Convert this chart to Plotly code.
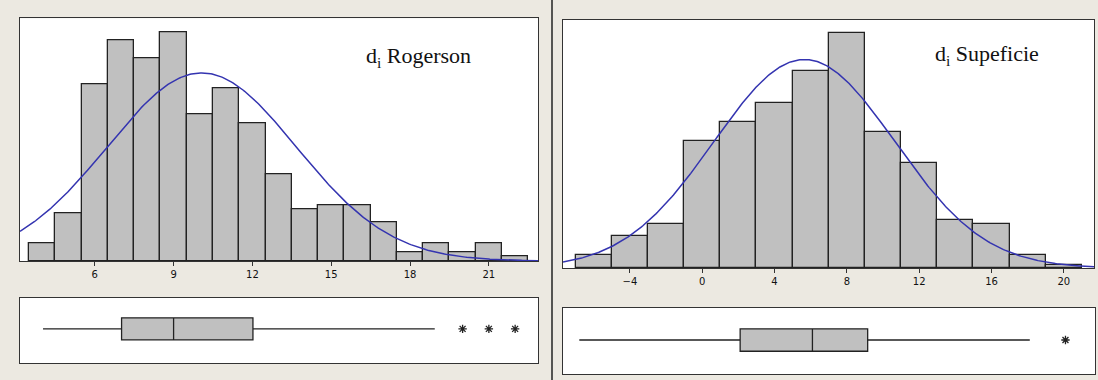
import numpy as np
import plotly.graph_objects as go

# ---- Rogerson distances: histogram (bin width 1) ----
rog_bins = [4, 5, 6, 7, 8, 9, 10, 11, 12, 13, 14, 15, 16, 17, 18, 19, 20, 21, 22]
rog_counts = [4, 11, 41, 51, 47, 53, 34, 40, 32, 20, 12, 13, 13, 9, 2, 4, 2, 4, 1]
rog_width = 1.0
rog_mean = 10.07
rog_sd = 3.6
rog_ticks = [6, 9, 12, 15, 18, 21]
# box summary
rog_box = dict(lo=4.03, q1=7.02, med=9.0, q3=12.02, hi=18.94)
rog_outliers = [20.0, 21.0, 22.0]

# ---- Superficie distances: histogram (bin width 2) ----
sup_bins = [-6, -4, -2, 0, 2, 4, 6, 8, 10, 12, 14, 16, 18, 20]
sup_counts = [4, 10, 14, 40, 46, 52, 62, 74, 43, 33, 15, 14, 4, 1]
sup_width = 2.0
sup_mean = 5.65
sup_sd = 5.0
sup_ticks = [-4, 0, 4, 8, 12, 16, 20]
sup_box = dict(lo=-6.8, q1=2.08, med=6.07, q3=9.12, hi=18.07)
sup_outliers = [20.04]

W, H = 1098, 380
BG = "#ece9e1"
BAR = "#c0c0c0"
EDGE = "#222222"
FRAME = "#333333"
CURVE = "#3434b0"


def xd(a, b):
    return [a / W, b / W]


def yd(top, bottom):
    return [1 - bottom / H, 1 - top / H]


fig = go.Figure()


def normal_curve(xr, n, width, mu, sd):
    xs = np.linspace(xr[0], xr[1], 400)
    ys = n * width / (sd * np.sqrt(2 * np.pi)) * np.exp(-0.5 * ((xs - mu) / sd) ** 2)
    return xs, ys


def add_panel(k_hist, k_box, bins, counts, width, mu, sd, box, outliers, xr):
    xa_h = "x" if k_hist == 1 else f"x{k_hist}"
    ya_h = "y" if k_hist == 1 else f"y{k_hist}"
    xa_b, ya_b = f"x{k_box}", f"y{k_box}"
    fig.add_trace(go.Bar(
        x=bins, y=counts, width=width,
        marker=dict(color=BAR, line=dict(color=EDGE, width=1.3)),
        xaxis=xa_h, yaxis=ya_h, showlegend=False, hoverinfo="skip",
    ))
    xs, ys = normal_curve(xr, sum(counts), width, mu, sd)
    fig.add_trace(go.Scatter(
        x=xs, y=ys, mode="lines", line=dict(color=CURVE, width=1.5),
        xaxis=xa_h, yaxis=ya_h, showlegend=False, hoverinfo="skip",
    ))
    fig.add_trace(go.Box(
        q1=[box["q1"]], median=[box["med"]], q3=[box["q3"]],
        lowerfence=[box["lo"]], upperfence=[box["hi"]],
        y=[0], orientation="h", width=0.68, whiskerwidth=0,
        fillcolor=BAR, line=dict(color=EDGE, width=1.3),
        xaxis=xa_b, yaxis=ya_b, showlegend=False, hoverinfo="skip",
    ))
    fig.add_trace(go.Scatter(
        x=outliers, y=[0] * len(outliers), mode="markers",
        marker=dict(symbol="asterisk-open", size=7, color="#222",
                    line=dict(color="#222", width=1.3)),
        xaxis=xa_b, yaxis=ya_b, showlegend=False, hoverinfo="skip",
    ))


rog_range = [3.154, 22.87]
sup_range = [-7.70, 21.67]

add_panel(1, 2, rog_bins, rog_counts, rog_width, rog_mean, rog_sd,
          rog_box, rog_outliers, rog_range)
add_panel(3, 4, sup_bins, sup_counts, sup_width, sup_mean, sup_sd,
          sup_box, sup_outliers, sup_range)

frame = dict(showline=True, linecolor=FRAME, linewidth=1.3, mirror=True,
             showgrid=False, zeroline=False)
tickfont = dict(family="DejaVu Sans", size=10, color="#111")
title_font = dict(family="Liberation Serif", size=22, color="#111")

fig.update_layout(
    width=W, height=H, autosize=False,
    margin=dict(l=0, r=0, t=0, b=0),
    paper_bgcolor=BG, plot_bgcolor="white",
    bargap=0,
    xaxis=dict(domain=xd(20, 538), range=rog_range, tickvals=rog_ticks,
               ticks="outside", ticklen=4, tickcolor=FRAME, tickfont=tickfont,
               anchor="y", **frame),
    yaxis=dict(domain=yd(18.3, 261), range=[0, 56.2], showticklabels=False,
               ticks="", anchor="x", **frame),
    xaxis2=dict(domain=xd(20, 538), range=rog_range, showticklabels=False,
                ticks="", anchor="y2", **frame),
    yaxis2=dict(domain=yd(298, 363), range=[-1.05, 0.95], showticklabels=False,
                ticks="", anchor="x2", **frame),
    xaxis3=dict(domain=xd(563, 1094), range=sup_range, tickvals=sup_ticks,
                ticks="outside", ticklen=4, tickcolor=FRAME, tickfont=tickfont,
                anchor="y3", **frame),
    yaxis3=dict(domain=yd(20, 268), range=[0, 78.2], showticklabels=False,
                ticks="", anchor="x3", **frame),
    xaxis4=dict(domain=xd(563, 1095), range=sup_range, showticklabels=False,
                ticks="", anchor="y4", **frame),
    yaxis4=dict(domain=yd(308, 374), range=[-1.03, 0.97], showticklabels=False,
                ticks="", anchor="x4", **frame),
    shapes=[dict(type="line", xref="paper", yref="paper",
                 x0=552 / W, x1=552 / W, y0=0, y1=1,
                 line=dict(color="#222", width=1.5))],
    annotations=[
        dict(text="d<sub>i</sub> Rogerson", xref="paper", yref="paper",
             x=418 / W, y=1 - 57 / H, xanchor="center", yanchor="middle",
             showarrow=False, font=title_font),
        dict(text="d<sub>i</sub> Supeficie", xref="paper", yref="paper",
             x=987 / W, y=1 - 55 / H, xanchor="center", yanchor="middle",
             showarrow=False, font=title_font),
    ],
)

fig.write_html("out.html")
